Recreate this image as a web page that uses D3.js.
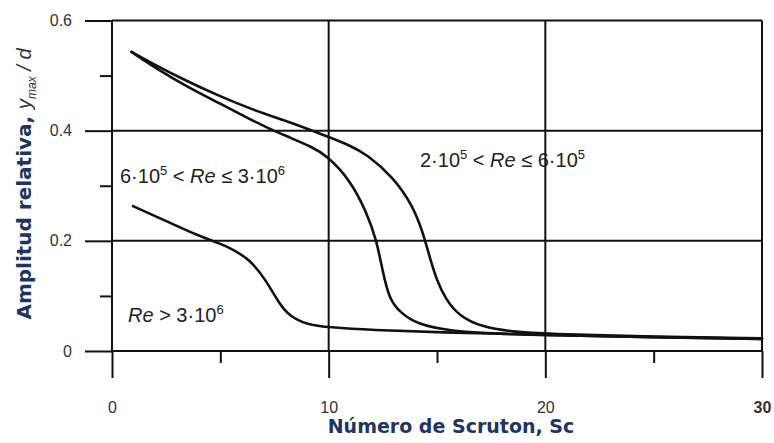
<!DOCTYPE html>
<html><head><meta charset="utf-8">
<script src="https://cdn.jsdelivr.net/npm/d3@7"></script>
<style>
html,body{margin:0;padding:0;background:#fff;}
svg{display:block;font-family:"Liberation Sans",Arial,sans-serif;}
</style></head>
<body><svg id="c" width="774" height="443"></svg>
<script>
// ---- data ----
const xTicks = [0, 10, 20, 30];
const xMinorTicks = [5, 15, 25];
const yTicks = [0, 0.2, 0.4, 0.6];
const yMinorTicks = [0.1, 0.3, 0.5];
const yTickLabels = ["0", "0.2", "0.4", "0.6"];

// 2·10^5 < Re ≤ 6·10^5
const scA  = [0.9, 0.9, 2, 3.45, 5, 6.5, 8, 9.26, 9.9, 11, 11.75, 12.95, 13.9, 14.35, 14.65, 14.97, 15.4, 16.0, 17.1, 18.5, 20, 25, 30, 30];
const ampA = [0.543, 0.543, 0.519, 0.49, 0.462, 0.438, 0.418, 0.40, 0.39, 0.373, 0.357, 0.317, 0.263, 0.215, 0.172, 0.13, 0.094, 0.064, 0.043, 0.035, 0.031, 0.026, 0.023, 0.023];
// 6·10^5 < Re ≤ 3·10^6
const scB  = [0.9, 0.9, 2, 3.45, 5, 6.5, 7.3, 8.06, 9.26, 9.9, 10.97, 11.75, 12.2, 12.5, 12.8, 13.3, 14.05, 15.6, 18, 20, 25, 30, 30];
const ampB = [0.543, 0.543, 0.514, 0.48, 0.449, 0.418, 0.403, 0.39, 0.37, 0.355, 0.312, 0.252, 0.203, 0.143, 0.094, 0.07, 0.049, 0.036, 0.031, 0.029, 0.025, 0.022, 0.022];
// Re > 3·10^6
const scC  = [0.97, 0.97, 2.5, 4.05, 5.0, 5.6, 6.36, 7.1, 7.7, 8.2, 9.0, 10, 12, 15, 20, 25, 30, 30];
const ampC = [0.263, 0.263, 0.236, 0.208, 0.195, 0.184, 0.166, 0.129, 0.087, 0.063, 0.048, 0.043, 0.038, 0.034, 0.029, 0.025, 0.022, 0.022];

const xTitle = "Número de Scruton, Sc";

// ---- drawing ----
const svg = d3.select("#c");
const x = d3.scaleLinear().domain([0, 30]).range([112, 762]);
const y = d3.scaleLinear().domain([0, 0.6]).range([351, 20.5]);
const ink = "#111";

// horizontal grid lines
svg.append("g").selectAll("line").data(yTicks).join("line")
  .attr("x1", x(0)).attr("x2", x(30))
  .attr("y1", d => y(d)).attr("y2", d => y(d))
  .attr("stroke", ink).attr("stroke-width", 2);
// vertical grid lines
svg.append("g").selectAll("line").data(xTicks).join("line")
  .attr("x1", d => x(d)).attr("x2", d => x(d))
  .attr("y1", y(0.6)).attr("y2", y(0))
  .attr("stroke", ink).attr("stroke-width", 2);

// y axis (major)
const yAxis = svg.append("g").attr("transform", `translate(${x(0)},0)`)
  .call(d3.axisLeft(y).tickValues(yTicks).tickSize(27).tickPadding(13)
    .tickFormat((d, i) => yTickLabels[i]));
yAxis.select(".domain").remove();
yAxis.selectAll(".tick line").attr("stroke", ink).attr("stroke-width", 2);
yAxis.selectAll(".tick text").attr("fill", "#333").attr("font-size", 16).attr("font-family", "Liberation Sans, Arial, sans-serif");
// y axis (minor)
const yMin = svg.append("g").attr("transform", `translate(${x(0)},0)`)
  .call(d3.axisLeft(y).tickValues(yMinorTicks).tickSize(12).tickFormat(""));
yMin.select(".domain").remove();
yMin.selectAll(".tick line").attr("stroke", ink).attr("stroke-width", 2);

// x axis (major)
const xAxis = svg.append("g").attr("transform", `translate(0,${y(0)})`)
  .call(d3.axisBottom(x).tickValues(xTicks).tickSize(27).tickPadding(24));
xAxis.select(".domain").remove();
xAxis.selectAll(".tick line").attr("stroke", ink).attr("stroke-width", 2);
xAxis.selectAll(".tick text").attr("fill", "#333").attr("font-size", 16).attr("font-family", "Liberation Sans, Arial, sans-serif")
  .attr("font-weight", d => d === 30 ? "bold" : "normal");
// x axis (minor)
const xMin = svg.append("g").attr("transform", `translate(0,${y(0)})`)
  .call(d3.axisBottom(x).tickValues(xMinorTicks).tickSize(12).tickFormat(""));
xMin.select(".domain").remove();
xMin.selectAll(".tick line").attr("stroke", ink).attr("stroke-width", 2);

// curves
const line = d3.line().x(d => x(d[0])).y(d => y(d[1])).curve(d3.curveBasis);
[[scA, ampA], [scB, ampB], [scC, ampC]].forEach(([xs, ys]) => {
  svg.append("path").datum(xs.map((v, i) => [v, ys[i]]))
    .attr("d", line).attr("fill", "none").attr("stroke", ink)
    .attr("stroke-width", 2.6).attr("stroke-linejoin", "round").attr("stroke-linecap", "round");
});

// annotations
function label(px, py, parts) {
  const t = svg.append("text").attr("x", px).attr("y", py)
    .attr("font-size", 20).attr("fill", "#222");
  parts.forEach(p => {
    const s = t.append("tspan").text(p.t);
    if (p.i) s.attr("font-style", "italic");
    if (p.sup) s.attr("font-size", 13).attr("dy", -8);
    if (p.down) s.attr("dy", 8);
  });
}
label(120, 183, [{t: "6·10"}, {t: "5", sup: 1}, {t: " < ", down: 1}, {t: "Re", i: 1}, {t: " ≤ 3·10"}, {t: "6", sup: 1}]);
label(420, 167, [{t: "2·10"}, {t: "5", sup: 1}, {t: " < ", down: 1}, {t: "Re", i: 1}, {t: " ≤ 6·10"}, {t: "5", sup: 1}]);
label(128, 322, [{t: "Re", i: 1}, {t: " > 3·10"}, {t: "6", sup: 1}]);

// axis titles
svg.append("text").attr("x", 451).attr("y", 433).attr("text-anchor", "middle")
  .attr("font-family", "DejaVu Sans, sans-serif")
  .attr("font-size", 19).attr("font-weight", "bold").attr("fill", "#1f3461")
  .text(xTitle);

const yt = svg.append("text").attr("transform", "translate(31,184) rotate(-90)")
  .attr("text-anchor", "middle").attr("font-size", 20);
yt.append("tspan").attr("font-family", "DejaVu Sans, sans-serif").attr("font-weight", "bold").attr("fill", "#1f3461").text("Amplitud relativa, ");
yt.append("tspan").attr("font-style", "italic").attr("fill", "#333").attr("font-size", 20).text("y");
yt.append("tspan").attr("font-style", "italic").attr("fill", "#333").attr("font-size", 12).attr("dy", 5).text("max");
yt.append("tspan").attr("font-style", "italic").attr("fill", "#333").attr("font-size", 20).attr("dy", -5).text(" / d");
</script></body></html>
